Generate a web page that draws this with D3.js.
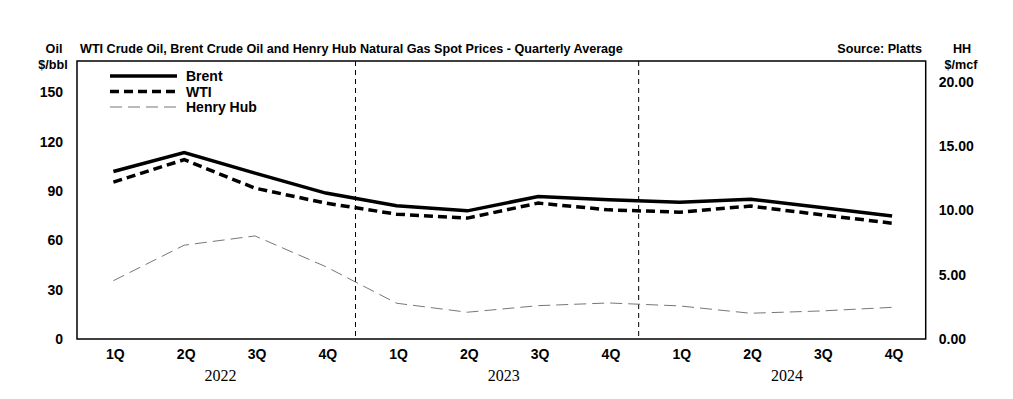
<!DOCTYPE html>
<html>
<head>
<meta charset="utf-8">
<script src="https://cdn.jsdelivr.net/npm/d3@7"></script>
<style>
  body { margin: 0; background: #fff; }
  text { font-family: "Liberation Sans", Arial, sans-serif; fill: #000; }
  .bold { font-weight: bold; }
  .year { font-family: "Liberation Serif", "Times New Roman", serif; font-size: 16px; }
</style>
</head>
<body>
<svg id="chart" width="1013" height="399"></svg>
<script>
// ---------- DATA ----------
const quarters = ["1Q", "2Q", "3Q", "4Q", "1Q", "2Q", "3Q", "4Q", "1Q", "2Q", "3Q", "4Q"];
const years = ["2022", "2023", "2024"];
const brent = [101.8, 113.4, 100.8, 88.7, 81.0, 77.9, 86.6, 84.6, 83.2, 85.0, 80.0, 74.8];
const wti = [95.4, 109.0, 91.7, 82.6, 75.9, 73.5, 82.6, 78.5, 77.1, 80.8, 75.5, 70.4];
const henryHub = [4.53, 7.29, 8.01, 5.62, 2.78, 2.08, 2.59, 2.80, 2.57, 2.00, 2.18, 2.46];
const oilTicks = [0, 30, 60, 90, 120, 150];
const hhTicks = [0, 5, 10, 15, 20];

// plot frame
const frame = { left: 77, right: 925.7, top: 61, bottom: 339 };
const size = { w: 1013, h: 399 };

const svg = d3.select("#chart");

const idx = quarters.map((d, i) => i);

// points sit a touch right of the frame centre, as in the source
const xScale = d3
	.scaleBand()
	.domain(idx)
	.range([78, 927.5]);
const xc = (i) => xScale(i) + xScale.bandwidth() / 2;

const yOil = d3
	.scaleLinear()
	.domain([0, 169])
	.range([frame.bottom, frame.top]);
const yHH = d3
	.scaleLinear()
	.domain([0, 21.6])
	.range([frame.bottom, frame.top]);

// vertical year separators
[3, 7].forEach((i) => {
	const x = xc(i) + xScale.step() * 0.42;
	svg.append("line")
		.attr("x1", x)
		.attr("x2", x)
		.attr("y1", frame.top)
		.attr("y2", frame.bottom)
		.attr("stroke", "#000")
		.attr("stroke-width", 1)
		.attr("stroke-dasharray", "5,4");
});

// lines
const oilLine = d3.line().x((d, i) => xc(i)).y((d) => yOil(d));
const hhLine = d3.line().x((d, i) => xc(i)).y((d) => yHH(d));

svg.append("path")
	.attr("d", hhLine(henryHub))
	.attr("fill", "none")
	.attr("stroke", "#777")
	.attr("stroke-width", 1)
	.attr("stroke-dasharray", "12,6");
svg.append("path")
	.attr("d", oilLine(wti))
	.attr("fill", "none")
	.attr("stroke", "#000")
	.attr("stroke-width", 3.5)
	.attr("stroke-dasharray", "9,5");
svg.append("path")
	.attr("d", oilLine(brent))
	.attr("fill", "none")
	.attr("stroke", "#000")
	.attr("stroke-width", 3.5);

// frame
svg.append("rect")
	.attr("x", frame.left)
	.attr("y", frame.top)
	.attr("width", frame.right - frame.left)
	.attr("height", frame.bottom - frame.top)
	.attr("fill", "none")
	.attr("stroke", "#000")
	.attr("stroke-width", 1.5);

// left axis
const yAxisL = svg.append("g")
	.attr("transform", `translate(${frame.left},0)`)
	.call(d3.axisLeft(yOil).tickValues(oilTicks).tickSize(0).tickPadding(14));
yAxisL.select(".domain").remove();
yAxisL.selectAll("text").attr("class", "bold").style("font-size", "14px");

// right axis
const yAxisR = svg.append("g")
	.attr("transform", `translate(${frame.right},0)`)
	.call(d3.axisRight(yHH).tickValues(hhTicks).tickSize(0).tickPadding(13).tickFormat(d3.format(".2f")));
yAxisR.select(".domain").remove();
yAxisR.selectAll("text").attr("class", "bold").style("font-size", "14px");

// x axis
const xAxis = svg.append("g")
	.attr("transform", `translate(0,${frame.bottom})`)
	.call(d3.axisBottom(xScale).tickSize(0).tickPadding(10).tickFormat((i) => quarters[i]));
xAxis.select(".domain").remove();
xAxis.selectAll("text").attr("class", "bold").attr("dx", 2).style("font-size", "14px");

years.forEach((yr, k) => {
	svg.append("text")
		.attr("class", "year")
		.attr("x", (xc(k * 4 + 1) + xc(k * 4 + 2)) / 2 + 1)
		.attr("y", 381)
		.attr("text-anchor", "middle")
		.text(yr);
});

// titles
svg.append("text")
	.attr("class", "bold")
	.attr("x", 80)
	.attr("y", 53)
	.style("font-size", "12.6px")
	.text("WTI Crude Oil, Brent Crude Oil and Henry Hub Natural Gas Spot Prices - Quarterly Average");
svg.append("text")
	.attr("class", "bold")
	.attr("x", 922)
	.attr("y", 53)
	.attr("text-anchor", "end")
	.style("font-size", "12.6px")
	.text("Source: Platts");

[["Oil", 54, 53], ["$/bbl", 53, 69], ["HH", 962, 53], ["$/mcf", 961, 69]].forEach(([t, x, y]) => {
	svg.append("text")
		.attr("class", "bold")
		.attr("x", x)
		.attr("y", y)
		.attr("text-anchor", "middle")
		.style("font-size", "12.6px")
		.text(t);
});

// legend
const legend = [
	{ name: "Brent", color: "#000", width: 3.5, dash: null },
	{ name: "WTI", color: "#000", width: 3.5, dash: "9,5" },
	{ name: "Henry Hub", color: "#777", width: 1, dash: "12,6" },
];
legend.forEach((l, i) => {
	const y = 76 + i * 15.5;
	svg.append("line")
		.attr("x1", 110)
		.attr("x2", 177)
		.attr("y1", y)
		.attr("y2", y)
		.attr("stroke", l.color)
		.attr("stroke-width", l.width)
		.attr("stroke-dasharray", l.dash);
	svg.append("text")
		.attr("class", "bold")
		.attr("x", 186)
		.attr("y", y + 5)
		.style("font-size", "14px")
		.text(l.name);
});
</script>
</body>
</html>
